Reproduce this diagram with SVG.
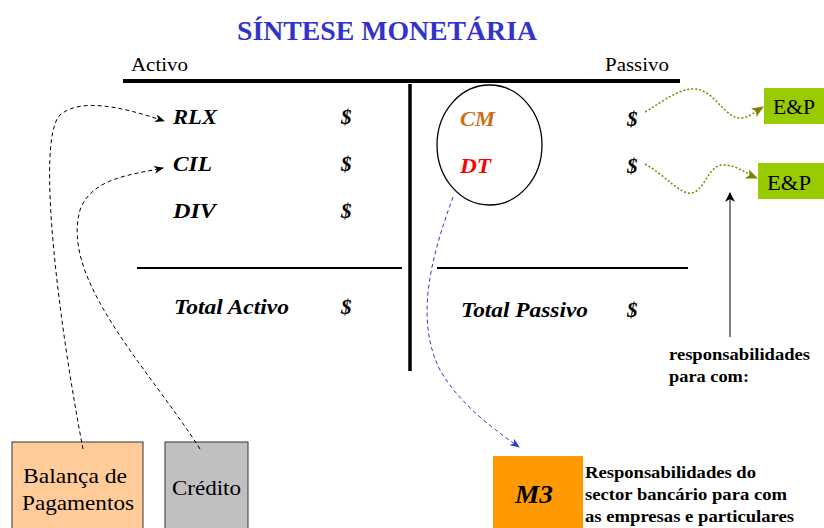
<svg xmlns="http://www.w3.org/2000/svg" width="824" height="528" viewBox="0 0 824 528">
<style>
.serif{font-family:"Liberation Serif","Times New Roman",serif}
.bi{font-family:"Liberation Serif","Times New Roman",serif;font-weight:bold;font-style:italic;font-size:21px}
.b{font-family:"Liberation Serif","Times New Roman",serif;font-weight:bold;font-size:17px}
.bx{font-family:"Liberation Serif","Times New Roman",serif;font-size:22px}
</style>
<defs>
<marker id="ak" markerWidth="10" markerHeight="8" refX="9" refY="4" orient="auto" markerUnits="userSpaceOnUse"><path d="M0,0 L10,4 L0,8 L3,4 Z" fill="#000"/></marker>
<marker id="ab" markerWidth="10" markerHeight="8" refX="9" refY="4" orient="auto" markerUnits="userSpaceOnUse"><path d="M0,0 L10,4 L0,8 L3,4 Z" fill="#3333dd"/></marker>
<marker id="ao" markerWidth="12" markerHeight="10" refX="11" refY="5" orient="auto" markerUnits="userSpaceOnUse"><path d="M0,0 L12,5 L0,10 L3,5 Z" fill="#808000"/></marker>
<marker id="ag" markerWidth="10" markerHeight="10" refX="9" refY="5" orient="auto" markerUnits="userSpaceOnUse"><path d="M0,0 L10,5 L0,10 L3,5 Z" fill="#000"/></marker>
</defs>
<rect width="824" height="528" fill="#fff"/>
<text x="237" y="40" textLength="300" lengthAdjust="spacingAndGlyphs" class="serif" font-size="28" font-weight="bold" fill="#3333cc">SÍNTESE MONETÁRIA</text>
<text x="131" y="71" textLength="57" lengthAdjust="spacingAndGlyphs" class="serif" font-size="19">Activo</text>
<text x="605" y="71" textLength="64" lengthAdjust="spacingAndGlyphs" class="serif" font-size="19">Passivo</text>
<g id="tconta">
<line x1="123" y1="81" x2="680" y2="81" stroke="#000" stroke-width="4"/>
<line x1="410" y1="84" x2="410" y2="371" stroke="#000" stroke-width="3.5"/>
<line x1="137" y1="268" x2="402" y2="268" stroke="#000" stroke-width="2"/>
<line x1="437" y1="268" x2="688" y2="268" stroke="#000" stroke-width="2"/>
</g>
<g id="activo">
<text x="173" y="124" textLength="44" lengthAdjust="spacingAndGlyphs" class="bi">RLX</text>
<text x="173" y="171" textLength="39" lengthAdjust="spacingAndGlyphs" class="bi">CIL</text>
<text x="173" y="218" textLength="43" lengthAdjust="spacingAndGlyphs" class="bi">DIV</text>
<text x="341" y="124" class="bi">$</text>
<text x="341" y="171" class="bi">$</text>
<text x="341" y="218" class="bi">$</text>
<text x="174" y="314" textLength="115" lengthAdjust="spacingAndGlyphs" class="bi">Total Activo</text>
<text x="341" y="314" class="bi">$</text>
</g>
<g id="passivo">
<ellipse cx="489.5" cy="145" rx="52.5" ry="60" fill="none" stroke="#000" stroke-width="1.3"/>
<text x="460" y="126" textLength="35" lengthAdjust="spacingAndGlyphs" class="bi" fill="#cc6e14">CM</text>
<text x="460" y="173" textLength="31" lengthAdjust="spacingAndGlyphs" class="bi" fill="#ff0000">DT</text>
<text x="627" y="126" class="bi">$</text>
<text x="627" y="173" class="bi">$</text>
<text x="461" y="317" textLength="127" lengthAdjust="spacingAndGlyphs" class="bi">Total Passivo</text>
<text x="627" y="317" class="bi">$</text>
</g>
<g id="ep1"><rect x="764" y="88" width="60" height="36" fill="#99cc00"/><text x="773" y="114" textLength="42" lengthAdjust="spacingAndGlyphs" class="bx" font-size="21">E&amp;P</text></g>
<g id="ep2"><rect x="758" y="163" width="66" height="36" fill="#99cc00"/><text x="767" y="190" textLength="44" lengthAdjust="spacingAndGlyphs" class="bx" font-size="21">E&amp;P</text></g>
<g id="resp"><text x="669" y="360" textLength="141" lengthAdjust="spacingAndGlyphs" class="b">responsabilidades</text><text x="669" y="382" textLength="80" lengthAdjust="spacingAndGlyphs" class="b">para com:</text></g>
<g id="m3"><rect x="493" y="456" width="90" height="72" fill="#ff9900"/><text x="515" y="503" textLength="38" lengthAdjust="spacingAndGlyphs" class="serif" font-size="25" font-weight="bold" font-style="italic">M3</text></g>
<g id="m3txt"><text x="585" y="478" textLength="171" lengthAdjust="spacingAndGlyphs" class="b">Responsabilidades do</text><text x="585" y="500" textLength="202" lengthAdjust="spacingAndGlyphs" class="b">sector bancário para com</text><text x="585" y="522" textLength="209" lengthAdjust="spacingAndGlyphs" class="b">as empresas e particulares</text></g>
<g id="bp"><rect x="12" y="442" width="131" height="90" fill="#ffcc99" stroke="#333" stroke-width="1"/><text x="23" y="483" textLength="104" lengthAdjust="spacingAndGlyphs" class="bx">Balança de</text><text x="22" y="510" textLength="112" lengthAdjust="spacingAndGlyphs" class="bx">Pagamentos</text></g>
<g id="cred"><rect x="165" y="442" width="83" height="90" fill="#c0c0c0" stroke="#333" stroke-width="1"/><text x="172" y="495" textLength="69" lengthAdjust="spacingAndGlyphs" class="bx">Crédito</text></g>
<g id="connectors" fill="none">
<path d="M83,449 C60,330 35,140 60,115 C80,98 120,106 164,121" stroke="#000" stroke-width="1" stroke-dasharray="4,3" marker-end="url(#ak)"/>
<path d="M200,449 C150,370 60,280 80,210 C92,178 130,175 163,168" stroke="#000" stroke-width="1" stroke-dasharray="4,3" marker-end="url(#ak)"/>
<path d="M453,197 C430,260 415,320 440,370 C460,405 495,430 519,447" stroke="#3333dd" stroke-width="1" stroke-dasharray="4,3" marker-end="url(#ab)"/>
<path d="M645,112 C665,100 680,88 695,89 C715,90 725,120 742,118 C750,117 755,112 763,107" stroke="#808000" stroke-width="1.5" stroke-dasharray="2,2" marker-end="url(#ao)"/>
<path d="M645,164 C665,175 680,195 692,193 C705,190 708,166 722,165 C735,164 745,173 757,178" stroke="#808000" stroke-width="1.5" stroke-dasharray="2,2" marker-end="url(#ao)"/>
<line x1="730" y1="337" x2="730" y2="193" stroke="#555" stroke-width="1.5" marker-end="url(#ag)"/>
</g>
</svg>
